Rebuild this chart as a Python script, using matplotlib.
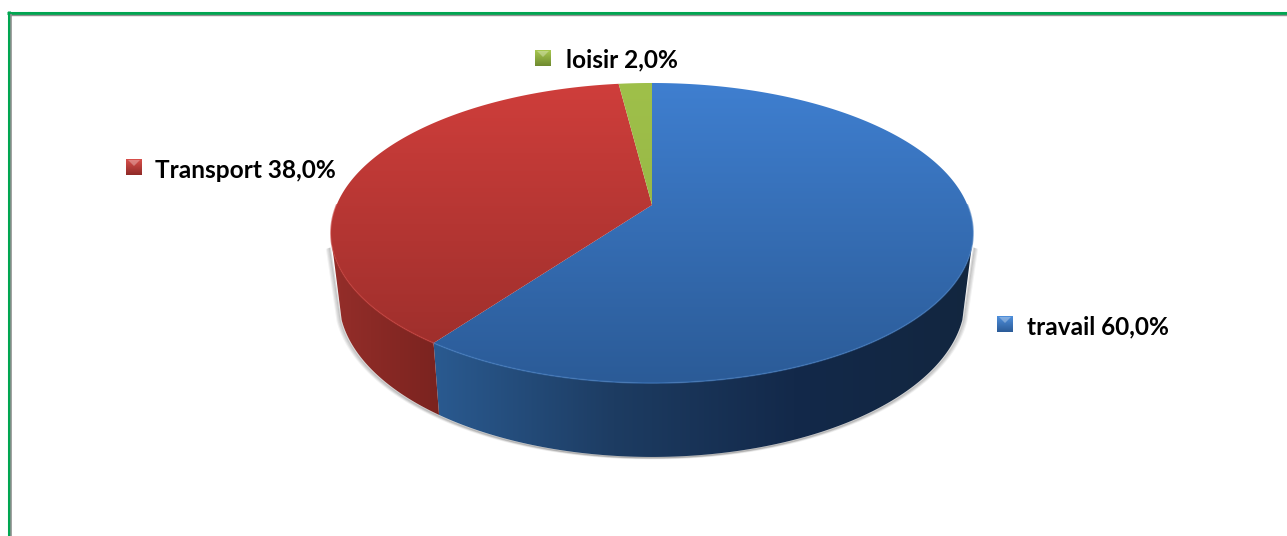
"""3D pie of time shares, drawn with a perspective circle on pixel axes"""
import matplotlib
matplotlib.use('Agg')
import matplotlib.pyplot as plt
import numpy as np
from matplotlib.colors import LinearSegmentedColormap
from matplotlib.patches import Polygon, Rectangle

categories = ['travail', 'Transport', 'loisir']
shares = [60.0, 38.0, 2.0]
share_labels = ['60,0%', '38,0%', '2,0%']

W, H = 1287, 536
CX, CY = 652, 205      # pie apex
A, B, K = 315.4, 144.8, 0.1868   # perspective of the circle
BOTTOM_X, BOTTOM_Y, DROP = 0.975, 1.05, 65   # lower cap of the body
TOP_TANGENT, LOW_TANGENT = np.radians(102), np.radians(108)   # where the silhouette leaves each cap

top_colors = [('#3f7fd0', '#2b5b97'), ('#cf3e3b', '#982d2a'), ('#9fc04a', '#8fae42')]
side_colors = [['#2a5a90', '#1d3c62', '#13294a', '#12263f'],
               ['#952e2a', '#7a231f'],
               ['#8aa83e', '#8aa83e']]
label_pos = [(1027, 327), (155, 171), (566, 60)]
marker_pos = [(997, 316), (126, 159), (535, 50)]
marker_colors = [('#4f8fdc', '#2b5b97'), ('#d9504c', '#8f2a27'), ('#a8c850', '#6f8a30')]


def project(theta, lower=False):
    """theta is clockwise from the back of the pie, in radians"""
    u = np.sin(theta)
    v = np.cos(theta)
    w = 1 + K * v
    x = A * u / w
    y = -B * v / w
    if lower:
        return CX + BOTTOM_X * x, CY + BOTTOM_Y * y + DROP
    return CX + x, CY + y


def gradient(ax, colors, extent, clip, horizontal=False):
    cmap = LinearSegmentedColormap.from_list('g', colors)
    ramp = np.linspace(0, 1, 256)
    ramp = ramp.reshape(1, -1) if horizontal else ramp.reshape(-1, 1)
    im = ax.imshow(ramp, cmap=cmap, extent=extent, aspect='auto',
                   interpolation='bilinear', vmin=0, vmax=1, zorder=clip.get_zorder())
    ax.add_patch(clip)
    im.set_clip_path(clip)


fig = plt.figure(figsize=(W / 100, H / 100), dpi=100)
ax = fig.add_axes([0, 0, 1, 1])
ax.axis('off')

edges = np.radians(np.cumsum([0] + shares) * 3.6)

# soft shadow below the body
t = np.linspace(LOW_TANGENT, 2 * np.pi - LOW_TANGENT, 300)
sx, sy = project(t, lower=True)
tx0, ty0 = project(TOP_TANGENT)
tx1, ty1 = project(2 * np.pi - TOP_TANGENT)
sx = np.r_[tx0, sx, tx1]
sy = np.r_[ty0 + 12, sy, ty1 + 12]
side = np.sign(sx - CX)
for grow, alpha in [(4.0, 0.05), (3.0, 0.07), (2.0, 0.1), (1.0, 0.14)]:
    ax.plot(sx + grow * side, sy + grow * 0.35, color='black', lw=1.5,
            alpha=alpha, zorder=1)

# side wall, only the front part is visible
for i in range(len(shares)):
    a0, a1 = edges[i], edges[i + 1]
    t0, t1 = max(a0, TOP_TANGENT), min(a1, 2 * np.pi - TOP_TANGENT)
    if t1 <= t0:
        continue
    x, y = project(np.linspace(t0, t1, 300))
    low = np.linspace(max(a0, LOW_TANGENT), min(a1, 2 * np.pi - LOW_TANGENT), 300)
    xb, yb = project(low, lower=True)
    pts = np.column_stack([np.r_[x, xb[::-1]], np.r_[y, yb[::-1]]])
    clip = Polygon(pts, closed=True, fc='none', ec='none', zorder=2)
    gradient(ax, side_colors[i], (pts[:, 0].min(), pts[:, 0].max(), H, 0), clip,
             horizontal=True)

# top face
ext_top, ext_bot = project(np.pi)[1], project(0.0)[1]
for i in range(len(shares)):
    t = np.linspace(edges[i], edges[i + 1], 300)
    x, y = project(t)
    pts = np.column_stack([np.r_[CX, x], np.r_[CY, y]])
    clip = Polygon(pts, closed=True, fc='none', ec='none', zorder=3)
    gradient(ax, top_colors[i], (0, W, ext_top, ext_bot), clip)

# lighter rim on the front edge of the top face
for i, rim in enumerate(['#3f78bd', '#c23a36']):
    t = np.linspace(max(edges[i], np.radians(90)), min(edges[i + 1], np.radians(270)), 300)
    x, y = project(t)
    ax.plot(x, y, color=rim, lw=1.2, alpha=0.6, zorder=4)

# labels with their small squares
for i in range(len(categories)):
    mx, my = marker_pos[i]
    clip = Rectangle((mx, my), 16, 16, fc='none', ec='none', zorder=5)
    gradient(ax, marker_colors[i], (mx, mx + 16, my + 16, my), clip)
    ax.add_patch(Polygon([(mx + 2, my + 1), (mx + 14, my + 1), (mx + 8, my + 7)], closed=True,
                         fc='white', ec='none', alpha=0.3, zorder=5.5))
    ax.text(label_pos[i][0], label_pos[i][1], f'{categories[i]} {share_labels[i]}',
            family='Lato', weight='bold', fontsize=17.6, color='black',
            va='center', ha='left', zorder=6)

# frame
ax.plot([8.5, 8.5], [H, 11], color='#00a651', lw=2.2, zorder=7, solid_capstyle='butt')
ax.plot([7, W], [12.5, 12.5], color='#00a651', lw=2.2, zorder=7, solid_capstyle='butt')
ax.plot([10.8, 10.8], [H, 14], color='#909090', lw=1.2, zorder=7, solid_capstyle='butt')
ax.plot([10, W], [14.8, 14.8], color='#909090', lw=1.0, zorder=7, solid_capstyle='butt')

ax.set_xlim(0, W)
ax.set_ylim(H, 0)
fig.savefig('out.png', dpi=100, facecolor='white')
plt.close()
